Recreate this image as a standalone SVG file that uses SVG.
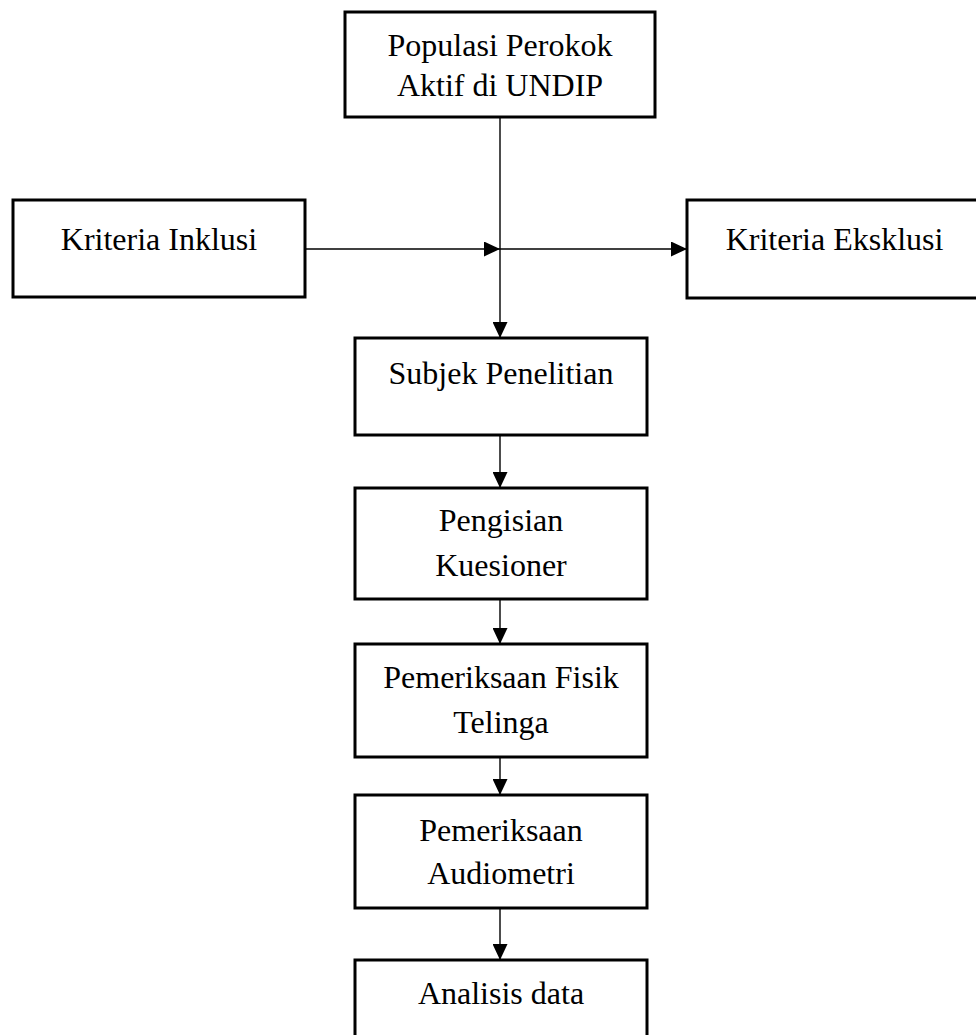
<svg xmlns="http://www.w3.org/2000/svg" width="976" height="1035" viewBox="0 0 976 1035">
<style>
.box{fill:#fff;stroke:#000;stroke-width:3}
.t{font-family:"Liberation Serif","Times New Roman",serif;font-size:32px;fill:#000;text-anchor:middle}
.c{fill:none;stroke:#000;stroke-width:1.4}
</style>
<defs>
<marker id="ah" markerUnits="userSpaceOnUse" markerWidth="16" markerHeight="15" refX="16" refY="7.5" orient="auto">
<path d="M0,0 L16,7.5 L0,15 Z" fill="#000"/>
</marker>
</defs>
<rect width="976" height="1035" fill="#fff"/>
<g id="connectors">
<line class="c" x1="500" y1="117" x2="500" y2="338" marker-end="url(#ah)"/>
<line class="c" x1="305" y1="249" x2="500" y2="249" marker-end="url(#ah)"/>
<line class="c" x1="500" y1="249" x2="687" y2="249" marker-end="url(#ah)"/>
<line class="c" x1="500" y1="435" x2="500" y2="488" marker-end="url(#ah)"/>
<line class="c" x1="500" y1="599" x2="500" y2="644" marker-end="url(#ah)"/>
<line class="c" x1="500" y1="757" x2="500" y2="795" marker-end="url(#ah)"/>
<line class="c" x1="500" y1="908" x2="500" y2="960" marker-end="url(#ah)"/>
</g>
<g id="populasi">
<rect class="box" x="345" y="12" width="310" height="105"/>
<text class="t" x="500" y="56">Populasi Perokok</text>
<text class="t" x="500" y="96">Aktif di UNDIP</text>
</g>
<g id="inklusi">
<rect class="box" x="13" y="200" width="292" height="97"/>
<text class="t" x="159" y="250">Kriteria Inklusi</text>
</g>
<g id="eksklusi">
<rect class="box" x="687" y="200" width="300" height="98"/>
<text class="t" x="834.5" y="250">Kriteria Eksklusi</text>
</g>
<g id="subjek">
<rect class="box" x="355" y="338" width="292" height="97"/>
<text class="t" x="501" y="384">Subjek Penelitian</text>
</g>
<g id="kuesioner">
<rect class="box" x="355" y="488" width="292" height="111"/>
<text class="t" x="501" y="531">Pengisian</text>
<text class="t" x="501" y="576">Kuesioner</text>
</g>
<g id="fisik">
<rect class="box" x="355" y="644" width="292" height="113"/>
<text class="t" x="501" y="688">Pemeriksaan Fisik</text>
<text class="t" x="501" y="733">Telinga</text>
</g>
<g id="audiometri">
<rect class="box" x="355" y="795" width="292" height="113"/>
<text class="t" x="501" y="841">Pemeriksaan</text>
<text class="t" x="501" y="884">Audiometri</text>
</g>
<g id="analisis">
<rect class="box" x="355" y="960" width="292" height="100"/>
<text class="t" x="501" y="1004">Analisis data</text>
</g>
</svg>
